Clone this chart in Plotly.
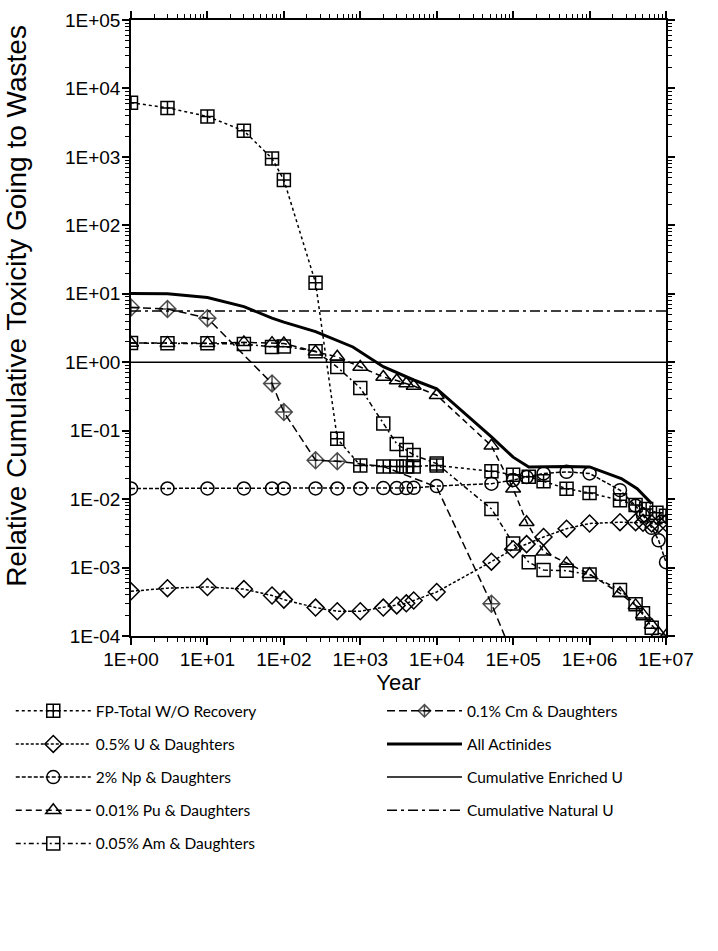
import plotly.graph_objects as go

# ---------------- data ----------------
fp_x = [1, 3, 10, 30, 70, 100, 260, 500, 1000, 2000, 3000, 4000, 5000, 1e4,
        5.2e4, 1e5, 1.6e5, 2.5e5, 5e5, 1e6, 2.5e6, 4e6, 5.5e6, 7.5e6, 1e7]
fp_y = [6200, 5200, 3900, 2400, 950, 460, 14.5, 0.076, 0.031, 0.030, 0.030, 0.030, 0.030, 0.031,
        0.0255, 0.0227, 0.0213, 0.0182, 0.0142, 0.0123, 0.0096, 0.0082, 0.0072, 0.0063, 0.0057]

u_x = [1, 3, 10, 30, 70, 100, 260, 500, 1000, 2000, 3000, 4000, 5000, 1e4,
       5.2e4, 1e5, 1.5e5, 2.5e5, 5e5, 1e6, 2.5e6, 4e6, 5e6, 6.5e6, 8e6, 1e7]
u_y = [4.5e-4, 5.0e-4, 5.2e-4, 4.85e-4, 3.9e-4, 3.4e-4, 2.6e-4, 2.3e-4, 2.3e-4, 2.6e-4, 2.8e-4, 3.0e-4, 3.3e-4, 4.4e-4,
       1.22e-3, 1.85e-3, 2.2e-3, 2.8e-3, 3.7e-3, 4.4e-3, 4.6e-3, 4.6e-3, 4.5e-3, 4.4e-3, 4.3e-3, 4.5e-3]

np_x = [1, 3, 10, 30, 70, 100, 260, 500, 1000, 2000, 3000, 4000, 5000, 1e4,
        5.2e4, 1e5, 1.5e5, 2.5e5, 5e5, 1e6, 2.5e6, 4e6, 5e6, 6.5e6, 8e6, 1e7]
np_y = [0.0143, 0.0143, 0.0143, 0.0143, 0.0143, 0.0143, 0.0143, 0.0143, 0.0143, 0.0145, 0.0145, 0.0145, 0.0146, 0.0155,
        0.0168, 0.019, 0.021, 0.0237, 0.025, 0.0237, 0.0135, 0.008, 0.0058, 0.0038, 0.0025, 0.0012]

pu_x = [1, 3, 10, 30, 70, 100, 260, 500, 1000, 2000, 3000, 4000, 5000, 1e4,
        5.2e4, 1e5, 1.5e5, 2.5e5, 5e5, 1e6, 2.5e6, 4e6, 5e6, 6.5e6, 8e6, 1e7]
pu_y = [1.91, 1.9, 1.9, 1.95, 1.9, 1.88, 1.42, 1.2, 0.85, 0.61, 0.54, 0.49, 0.45, 0.33,
        0.06, 0.0142, 0.0046, 0.0017, 1.15e-3, 8.0e-4, 4.2e-4, 2.8e-4, 2.05e-4, 1.45e-4, 1.1e-4, 1.0e-4]

am_x = [1, 3, 10, 30, 70, 100, 260, 500, 1000, 2000, 3000, 4000, 5000, 1e4,
        5.2e4, 1e5, 1.6e5, 2.5e5, 5e5, 1e6, 2.5e6, 4e6, 5e6, 6.5e6]
am_y = [1.91, 1.9, 1.9, 1.85, 1.67, 1.7, 1.45, 0.85, 0.42, 0.127, 0.064, 0.052, 0.044, 0.033,
        7.2e-3, 2.25e-3, 1.2e-3, 9.2e-4, 9.0e-4, 7.9e-4, 4.7e-4, 2.9e-4, 2.15e-4, 1.32e-4]

cm_x = [1, 3, 10, 70, 100, 260, 500, 2000, 1e4, 5.2e4, 1e5]
cm_y = [6.3, 6.0, 4.4, 0.49, 0.187, 0.037, 0.0357, 0.030, 0.015, 2.96e-4, 5.0e-5]
cm_marked = [1, 1, 1, 1, 1, 1, 1, 0, 0, 1, 0]

act_x = [1, 3, 10, 30, 70, 100, 260, 800, 2000, 5000, 1e4, 5.2e4, 1e5, 1.6e5,
         5e5, 1e6, 2.6e6, 4.2e6, 6.5e6]
act_y = [10.1, 10.0, 8.8, 6.5, 4.4, 3.85, 2.8, 1.67, 0.86, 0.55, 0.41, 0.081, 0.041, 0.0295,
         0.030, 0.0295, 0.020, 0.0142, 0.0086]

enr_x = [1, 1e7]
enr_y = [1.0, 1.0]
nat_x = [1, 1e7]
nat_y = [5.6, 5.6]

# tick labels (reference style)
x_tickvals = [1, 10, 100, 1e3, 1e4, 1e5, 1e6, 1e7]
x_ticktext = ["1E+00", "1E+01", "1E+02", "1E+03", "1E+04", "1E+05", "1E+06", "1E+07"]
y_tickvals = [1e-4, 1e-3, 1e-2, 1e-1, 1, 10, 100, 1e3, 1e4, 1e5]
y_ticktext = ["1E-04", "1E-03", "1E-02", "1E-01", "1E+00", "1E+01", "1E+02", "1E+03", "1E+04", "1E+05"]

names = ["FP-Total W/O Recovery", "0.5% U & Daughters", "2% Np & Daughters",
         "0.01% Pu & Daughters", "0.05% Am & Daughters", "0.1% Cm & Daughters",
         "All Actinides", "Cumulative Enriched U", "Cumulative Natural U"]

# minor tick positions (2..9 within each decade), merged with the labelled decades
x_minor = [m * d for d in x_tickvals[:-1] for m in range(2, 10)]
y_minor = [m * d for d in y_tickvals[:-1] for m in range(2, 10)]
x_all_vals = x_tickvals + x_minor
x_all_text = x_ticktext + [""] * len(x_minor)
y_all_vals = y_tickvals + y_minor
y_all_text = y_ticktext + [""] * len(y_minor)

# ---------------- figure ----------------
fig = go.Figure()
MS = 13
mline = dict(color="black", width=1.5)

def add(x, y, name, dash, symbol, legend, width=1.5, size=MS, mode="lines+markers",
        xa="x", ya="y"):
    fig.add_trace(go.Scatter(
        x=x, y=y, name=name, mode=mode, legend=legend, legendgroup=name,
        xaxis=xa, yaxis=ya,
        line=dict(color="black", width=width, dash=dash),
        marker=dict(symbol=symbol, size=size, color="black", line=mline) if symbol else None,
        cliponaxis=True,
    ))

add(fp_x, fp_y, names[0], "dot", "square-cross-open", "legend")
add(u_x, u_y, names[1], "3px,2px", "diamond-open", "legend")
add(np_x, np_y, names[2], "4px,2px", "circle-open", "legend")
add(pu_x, pu_y, names[3], "6px,4px", "triangle-up-open", "legend")
add(am_x, am_y, names[4], "5px,3px,2px,3px", "square-open", "legend")
add(cm_x, cm_y, names[5], "8px,4px", "diamond-cross-open", "legend2",
    size=[MS if m else 0 for m in cm_marked])
add(act_x, act_y, names[6], "solid", None, "legend2", width=3, mode="lines")
# these two lines sit on overlaid axes of identical range that carry the long decade ticks
add(enr_x, enr_y, names[7], "solid", None, "legend2", width=1.5, mode="lines", xa="x2", ya="y")
add(nat_x, nat_y, names[8], "10px,4px,3px,4px", None, "legend2", width=1.5, mode="lines",
    xa="x", ya="y2")

axis_common = dict(
    type="log", showline=True, linecolor="black", linewidth=1.5, mirror="allticks",
    tickmode="array", ticks="outside", ticklen=4, tickwidth=1.2, tickcolor="black",
    showgrid=False, zeroline=False, ticklabelstandoff=1,
    tickfont=dict(family="Liberation Sans, Arial", size=19, color="black"),
)

major_common = dict(
    type="log", showline=False, showgrid=False, zeroline=False, mirror="ticks",
    tickmode="array", ticks="outside", ticklen=8, tickwidth=1.5, tickcolor="black",
    showticklabels=False,
)

legend_font = dict(family="Lato", size=15.5, color="black")

fig.update_layout(
    width=718, height=951,
    margin=dict(l=131, r=52, t=20, b=315, autoexpand=False),
    paper_bgcolor="white", plot_bgcolor="white",
    font=dict(family="Liberation Sans, Arial", color="black"),
    xaxis=dict(axis_common, range=[0, 7], tickvals=x_all_vals, ticktext=x_all_text,
               title=dict(text="Year", font=dict(size=22), standoff=4)),
    yaxis=dict(axis_common, range=[-4, 5], tickvals=y_all_vals, ticktext=y_all_text),
    xaxis2=dict(major_common, overlaying="x", anchor="y", side="bottom", range=[0, 7],
                tickvals=x_tickvals),
    yaxis2=dict(major_common, overlaying="y", anchor="x", side="left", range=[-4, 5],
                tickvals=y_tickvals),
    legend=dict(xref="container", yref="container", x=0.015, y=0.27, xanchor="left", yanchor="top",
                font=legend_font, tracegroupgap=10, itemwidth=75, bgcolor="rgba(0,0,0,0)"),
    legend2=dict(xref="container", yref="container", x=0.532, y=0.27, xanchor="left", yanchor="top",
                 font=legend_font, tracegroupgap=10, itemwidth=75, bgcolor="rgba(0,0,0,0)"),
    showlegend=True,
    annotations=[dict(text="Relative Cumulative Toxicity Going to Wastes", textangle=-90,
                      xref="paper", yref="paper", x=-0.213, y=0.536, xanchor="center", yanchor="middle",
                      showarrow=False, font=dict(family="Liberation Sans, Arial", size=28, color="black"))],
)

fig.write_html("out.html")
